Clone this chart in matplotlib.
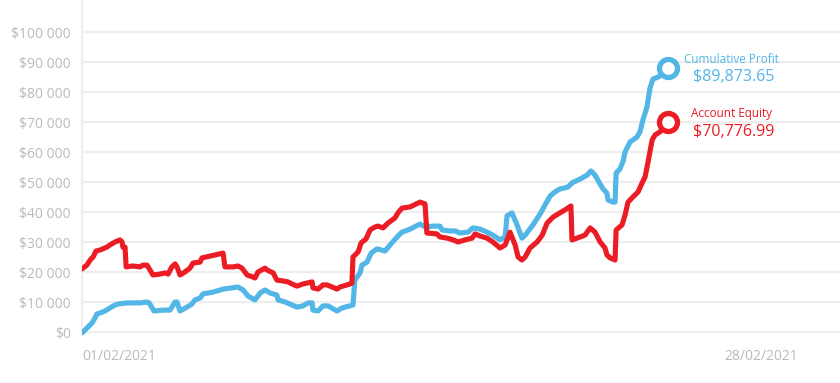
import numpy as np
import matplotlib.pyplot as plt
from matplotlib.ticker import FuncFormatter

plt.rcParams['font.family'] = ['Open Sans', 'DejaVu Sans']

# day of February (0 = 01/02) and values in thousands of dollars
profit_day = [0.04, 0.18, 0.37, 0.48, 0.55, 0.66, 0.85, 1.03, 1.22, 1.33, 1.66, 2.14, 2.40, 2.48,
              2.66, 2.99, 3.25, 3.44, 3.51, 3.62, 3.88, 4.06, 4.17, 4.36, 4.47, 4.84, 5.21, 5.76,
              5.95, 6.13, 6.39, 6.58, 6.76, 6.95, 7.20, 7.24, 7.50, 7.68, 7.94, 8.16, 8.35, 8.50,
              8.53, 8.72, 8.90, 9.09, 9.42, 9.60, 10.01, 10.08, 10.27, 10.34, 10.53, 10.68, 10.90,
              11.19, 11.38, 11.64, 11.82, 12.12, 12.49, 12.67, 12.97, 13.22, 13.30, 13.59, 13.78,
              13.96, 14.26, 14.44, 14.70, 14.96, 15.18, 15.44, 15.63, 15.70, 15.88, 16.07, 16.25,
              16.37, 16.66, 16.92, 17.10, 17.29, 17.47, 17.66, 17.95, 18.10, 18.40, 18.66, 18.80,
              18.95, 19.14, 19.25, 19.39, 19.43, 19.62, 19.69, 19.73, 19.87, 19.99, 20.06, 20.24,
              20.50, 20.61, 20.72, 20.87, 20.98, 21.09, 21.28, 21.43, 21.65]
profit_k = [0.0, 1.3, 3.0, 4.7, 6.0, 6.3, 7.0, 8.0, 9.0, 9.3, 9.7, 9.7, 10.0, 9.7,
            7.0, 7.3, 7.3, 10.0, 10.0, 7.0, 8.3, 9.3, 10.7, 11.3, 12.7, 13.3, 14.3, 15.0,
            14.0, 12.0, 10.7, 13.0, 14.0, 13.0, 12.3, 10.7, 10.0, 9.3, 8.3, 8.7, 9.7, 9.7,
            7.3, 7.0, 8.7, 8.7, 7.0, 8.0, 9.0, 17.3, 19.7, 22.3, 23.3, 26.3, 27.7,
            27.0, 29.0, 31.7, 33.3, 34.3, 36.0, 35.0, 35.3, 35.3, 34.0, 33.7, 33.7,
            33.0, 33.3, 34.7, 34.3, 33.3, 32.3, 30.7, 31.7, 38.7, 39.7, 35.7, 31.3,
            32.3, 35.7, 39.3, 42.3, 45.3, 46.7, 47.7, 48.3, 49.7, 51.0, 52.3, 53.7,
            52.3, 49.3, 47.7, 46.3, 44.0, 43.3, 43.3, 53.0, 54.3, 57.0, 60.0, 63.3,
            65.0, 66.7, 70.7, 75.0, 81.3, 84.3, 85.0, 85.7, 88.0]

equity_day = [0.04, 0.18, 0.30, 0.41, 0.52, 0.66, 0.92, 1.03, 1.22, 1.40, 1.48, 1.51, 1.59, 1.63,
              1.88, 2.14, 2.25, 2.40, 2.51, 2.62, 2.88, 3.07, 3.18, 3.32, 3.44, 3.51, 3.62, 3.80,
              3.99, 4.10, 4.36, 4.43, 4.73, 5.21, 5.28, 5.58, 5.76, 5.91, 6.10, 6.32, 6.39, 6.50,
              6.76, 6.83, 7.06, 7.20, 7.43, 7.61, 7.76, 7.94, 8.16, 8.50, 8.53, 8.72, 8.90, 9.05,
              9.24, 9.42, 9.53, 9.90, 9.97, 10.01, 10.20, 10.31, 10.49, 10.64, 10.82, 10.93, 11.12,
              11.30, 11.56, 11.67, 11.82, 12.12, 12.49, 12.67, 12.74, 13.11, 13.22, 13.48, 13.71,
              13.89, 14.15, 14.41, 14.52, 14.70, 14.96, 15.18, 15.44, 15.63, 15.81, 16.00, 16.11,
              16.25, 16.37, 16.55, 16.81, 17.00, 17.18, 17.40, 17.58, 17.84, 18.06, 18.10, 18.29,
              18.58, 18.77, 18.95, 19.14, 19.32, 19.39, 19.51, 19.69, 19.73, 19.95, 20.06, 20.17,
              20.35, 20.54, 20.69, 20.80, 20.91, 21.06, 21.17, 21.35, 21.65]
equity_k = [21.3, 22.3, 24.0, 25.0, 27.0, 27.3, 28.3, 29.0, 30.0, 30.7, 30.0, 28.3, 28.3, 21.7,
            22.0, 21.7, 22.3, 22.3, 20.7, 19.0, 19.3, 19.7, 19.3, 21.7, 22.7, 21.7, 19.0, 20.0,
            21.3, 23.0, 23.3, 24.7, 25.3, 26.3, 21.7, 21.7, 22.0, 21.3, 19.0, 18.3, 18.0, 20.0,
            21.3, 20.7, 19.7, 17.3, 17.0, 16.7, 16.0, 15.3, 16.0, 16.7, 14.7, 14.3, 15.7, 15.7,
            15.0, 14.3, 15.0, 16.0, 16.3, 25.0, 26.7, 29.7, 31.0, 34.0, 35.0, 35.3, 34.7,
            36.3, 38.0, 39.7, 41.3, 41.7, 43.3, 42.7, 33.0, 32.7, 31.7, 31.3, 30.7,
            30.0, 30.7, 31.3, 32.7, 32.0, 31.3, 30.0, 28.0, 29.0, 33.3, 29.0, 25.0,
            24.0, 25.0, 28.0, 30.0, 32.3, 36.3, 38.3, 39.3, 40.7, 42.0, 30.7, 31.3,
            32.3, 34.7, 33.3, 30.0, 28.0, 25.7, 24.7, 24.0, 34.0, 35.7, 39.0, 43.3,
            45.0, 46.7, 49.7, 51.7, 56.7, 64.0, 65.7, 66.7, 70.0]

profit_label = "$89,873.65"
equity_label = "$70,776.99"
y_ticks = np.arange(0, 100001, 10000)

blue = '#52b6e6'
red = '#ec1c24'
grid_c = '#eeeeee'
text_c = '#bababa'

profit = np.array(profit_k) * 1000
equity = np.array(equity_k) * 1000

fig = plt.figure(figsize=(8.4, 3.83), dpi=100)
ax = fig.add_axes([82 / 840, 48 / 383, 758 / 840, 335 / 383])

ax.plot(profit_day, profit, color=blue, lw=3.7, solid_joinstyle='round', zorder=3)
ax.plot(equity_day, equity, color=red, lw=3.7, solid_joinstyle='round', zorder=4)

# end markers
ax.plot(profit_day[-1], profit[-1], 'o', ms=13, mfc='white', mec=blue, mew=3.8, zorder=5)
ax.plot(equity_day[-1], equity[-1], 'o', ms=13, mfc='white', mec=red, mew=3.8, zorder=5)

ax.text(profit_day[-1] + 0.6, profit[-1] + 3000, 'Cumulative Profit', color=blue,
        fontsize=8.5, ha='left', va='center')
ax.text(profit_day[-1] + 0.92, profit[-1] - 3000, profit_label, color=blue,
        fontsize=11.5, ha='left', va='center')
ax.text(equity_day[-1] + 0.85, equity[-1] + 3000, 'Account Equity', color=red,
        fontsize=8.5, ha='left', va='center')
ax.text(equity_day[-1] + 0.92, equity[-1] - 3300, equity_label, color=red,
        fontsize=11.5, ha='left', va='center')

ax.set_xlim(0, 28)
ax.set_ylim(-1000, 110670)
ax.set_yticks(y_ticks)
ax.yaxis.set_major_formatter(FuncFormatter(lambda v, p: '$' + f'{int(v):,}'.replace(',', ' ')))
ax.tick_params(axis='y', length=0, pad=8, labelsize=10, labelcolor=text_c)
ax.set_xticks([])
ax.grid(axis='y', color=grid_c, lw=1.6)
ax.set_axisbelow(True)

for s in ['top', 'right', 'bottom']:
    ax.spines[s].set_visible(False)
ax.spines['left'].set_color(grid_c)
ax.spines['left'].set_linewidth(1.6)

ax.text(0, -0.065, '01/02/2021', transform=ax.get_xaxis_transform(), ha='left', va='center',
        fontsize=10, color=text_c)
ax.text(26.45, -0.065, '28/02/2021', transform=ax.get_xaxis_transform(), ha='right', va='center',
        fontsize=10, color=text_c)

fig.savefig('out.png', dpi=100)
